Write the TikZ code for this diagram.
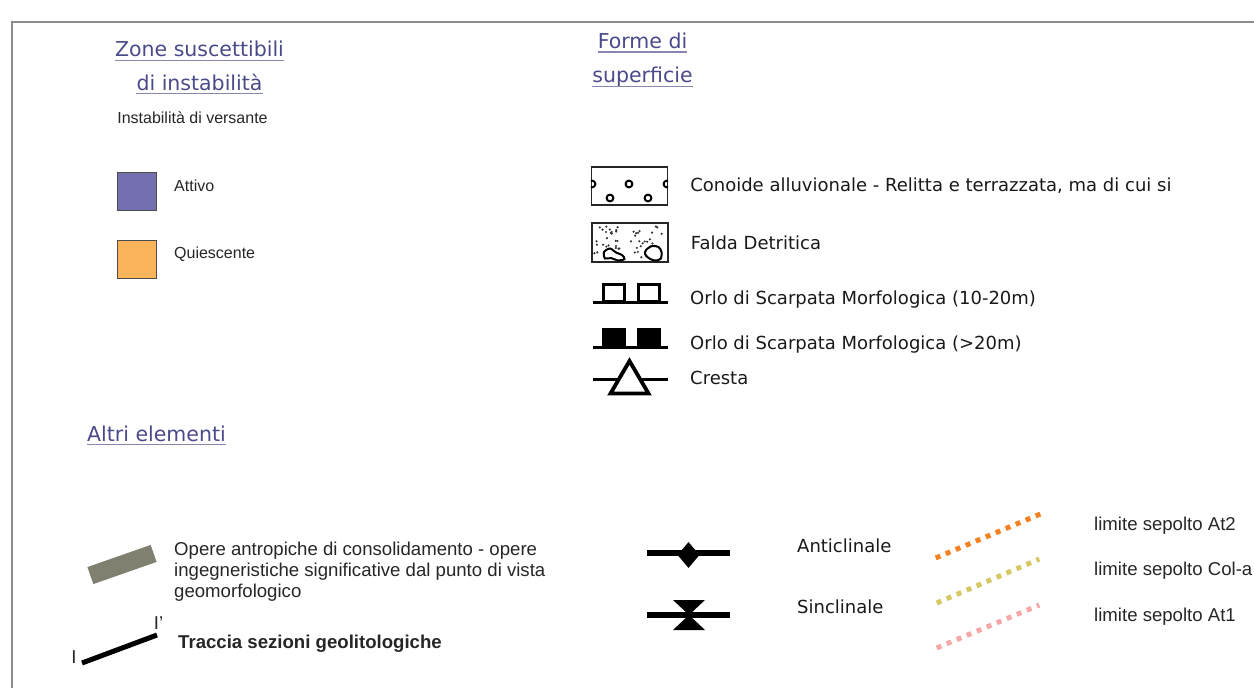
\documentclass[tikz,border=0pt]{standalone}
\usepackage{fontspec}
\setmainfont{Liberation Sans}
\newfontfamily\lucida{DejaVu Sans}
\usetikzlibrary{positioning,shapes.geometric}

\definecolor{headblue}{RGB}{74,74,138}
\definecolor{headline}{RGB}{135,135,178}
\definecolor{attivocol}{RGB}{116,112,176}
\definecolor{quiesccol}{RGB}{251,180,90}
\definecolor{operegray}{RGB}{128,128,112}
\definecolor{at2col}{RGB}{245,130,32}
\definecolor{colacol}{RGB}{214,200,100}
\definecolor{at1col}{RGB}{244,168,168}
\definecolor{framegray}{RGB}{140,140,140}

\begin{document}
\begin{tikzpicture}[x=1pt, y=-1pt,
		head/.style = {inner sep=0pt, anchor=base, text=headblue, font=\lucida\fontsize{20.5}{25}\selectfont},
		uline/.style = {draw=headline, line width=1.3pt},
		lab/.style = {inner sep=0pt, anchor=base west, text=black!85, font=\fontsize{16}{21}\selectfont},
		biglab/.style = {lab, font=\fontsize{18.6}{21}\selectfont},
		forma/.style = {inner sep=0pt, anchor=base west, text=black!90, font=\lucida\fontsize{18}{22}\selectfont},
		swatch/.style = {draw=black!70, line width=1pt, minimum width=39pt, minimum height=38pt, inner sep=0pt},
		symbox/.style = {draw=black!85, line width=1.2pt, minimum width=76pt, minimum height=38pt, inner sep=0pt},
		scarpsq/.style = {draw=black, line width=3pt, minimum width=21pt, minimum height=17pt, inner sep=0pt},
		scarpline/.style = {line width=3pt},
		foldline/.style = {line width=5.5pt},
		sepolto/.style = {line width=5pt, dash pattern=on 5pt off 5.85pt, shorten <=-2.5pt, shorten >=-2.5pt}
		]
		\useasboundingbox (0,0) rectangle (1254,688);
		\draw[framegray, line width=2pt] (1260,22) -- (12,22) -- (12,700);
		
		%headings
		\node[head] (zone1) at (199.5,56.7) {Zone suscettibili};
		\node[head] (zone2) at (199.5,90) {di instabilità};
		\node[head] (forme1) at (642.5,48.3) {Forme di};
		\node[head] (forme2) at (642.5,82.7) {superficie};
		\node[head, anchor=base west] (altri) at (87,441) {Altri elementi};
		\foreach \h in {zone1,zone2,forme1,forme2,altri}
		\draw[uline] ([yshift=-3.6pt]\h.base west) -- ([yshift=-3.6pt]\h.base east);
		
		%instabilita di versante
		\node[lab, anchor=base] (versante) at (192.5,123.3) {Instabilità di versante};
		\node[swatch, fill=attivocol] (attivo) at (136.5,191) {};
		\node[swatch, fill=quiesccol] (quiesc) at (136.5,259) {};
		\node[lab, right=17.5pt of attivo, yshift=5pt] (attivolab) {Attivo};
		\node[lab, right=17.5pt of quiesc, yshift=5pt] (quiesclab) {Quiescente};
		
		%conoide
		\node[symbox] (conoide) at (629.5,186) {};
		\begin{scope}
			\clip (conoide.south west) rectangle (conoide.north east);
			\foreach \p in {(592,184),(629,184),(667,184),(610,198),(648,198)}
			\draw[line width=2pt] \p circle (3.4);
		\end{scope}
		\node[forma, right=22pt of conoide] (conoidelab) {Conoide alluvionale - Relitta e terrazzata, ma di cui si};
		
		%falda detritica
		\node[symbox, minimum height=39pt] (falda) at (630,242.5) {};
		\begin{scope}
			\clip (falda.south west) rectangle (falda.north east);
			\pgfmathsetseed{11}
			\foreach \i in {1,...,50} {
				\pgfmathsetmacro\dx{594+72*rnd}
				\pgfmathsetmacro\dy{225+34*rnd}
				\fill[black!80] (\dx,\dy) circle (1.2);
			}
			\draw[line width=2pt, fill=white] plot[smooth cycle] coordinates {(604,252) (610,248.5) (616,252.5) (622,255) (624.5,259) (618,260.5) (611,258) (605,258.5)};
			\draw[line width=2pt, fill=white] plot[smooth cycle] coordinates {(646,250) (652,246) (658.5,247) (661.5,252) (660.5,259) (654,260.5) (648,257.5) (645,254)};
		\end{scope}
		\node[forma, right=22pt of falda] (faldalab) {Falda Detritica};
		
		%orlo di scarpata
		\draw[scarpline] (593,302) -- (668,302);
		\node[scarpsq, fill=white] (sa1) at (614,292.5) {};
		\node[scarpsq, fill=white] (sa2) at (649,292.5) {};
		\node[forma] (scarpalab) at (690,304) {Orlo di Scarpata Morfologica (10-20m)};
		
		\draw[scarpline] (593,347) -- (668,347);
		\node[scarpsq, fill=black] (sb1) at (614,337.5) {};
		\node[scarpsq, fill=black] (sb2) at (649,337.5) {};
		\node[forma] (scarpblab) at (690,349) {Orlo di Scarpata Morfologica ({>}20m)};
		
		%cresta
		\draw[scarpline] (593,379) -- (668,379);
		\draw[line width=3.8pt, fill=white, miter limit=4] (629.5,361) -- (648.5,393.5) -- (610.5,393.5) -- cycle;
		\node[forma] (crestalab) at (690,384) {Cresta};
		
		%anticlinale e sinclinale
		\coordinate (antiW) at (647,553);
		\coordinate (antiE) at (730,553);
		\draw[foldline] (antiW) -- (antiE);
		\node[diamond, fill=black, minimum width=22pt, minimum height=26pt, inner sep=0pt] (anti) at (688.5,555) {};
		\node[forma] (antilab) at (797,552) {Anticlinale};
		
		\coordinate (sinW) at (647,615);
		\coordinate (sinE) at (730,615);
		\draw[foldline] (sinW) -- (sinE);
		\fill (673,600) -- (705,600) -- (689,615) -- (705,630) -- (673,630) -- (689,615) -- cycle;
		\node[forma] (sinlab) at (797,613) {Sinclinale};
		
		%limiti sepolti
		\draw[sepolto, at2col] (938,557) -- (1038,515);
		\draw[sepolto, colacol] (939,602) -- (1037,560);
		\draw[sepolto, at1col] (939,647) -- (1037,606);
		\node[biglab] (at2lab) at (1094,530) {limite sepolto At2};
		\node[biglab] (colalab) at (1094,575) {limite sepolto Col-a};
		\node[biglab] (at1lab) at (1094,621) {limite sepolto At1};
		
		%opere antropiche
		\node[rectangle, fill=operegray, minimum width=67pt, minimum height=18pt, inner sep=0pt, rotate=19.3] (opere) at (122,564.5) {};
		\node[biglab, anchor=west, align=left] (operelab) at (174,572) {Opere antropiche di consolidamento - opere\\ingegneristiche significative dal punto di vista\\geomorfologico};
		
		%traccia sezioni
		\coordinate (trA) at (82,663);
		\coordinate (trB) at (157,635);
		\draw[line width=5pt] (trA) -- (trB);
		\node[biglab, anchor=base] (trAlab) at (74,663) {I};
		\node[biglab, anchor=base] (trBlab) at (158.5,629) {I'};
		\node[biglab, font=\bfseries\fontsize{18.6}{21}\selectfont] (traccialab) at (178,648) {Traccia sezioni geolitologiche};
		
\end{tikzpicture}
\end{document}
